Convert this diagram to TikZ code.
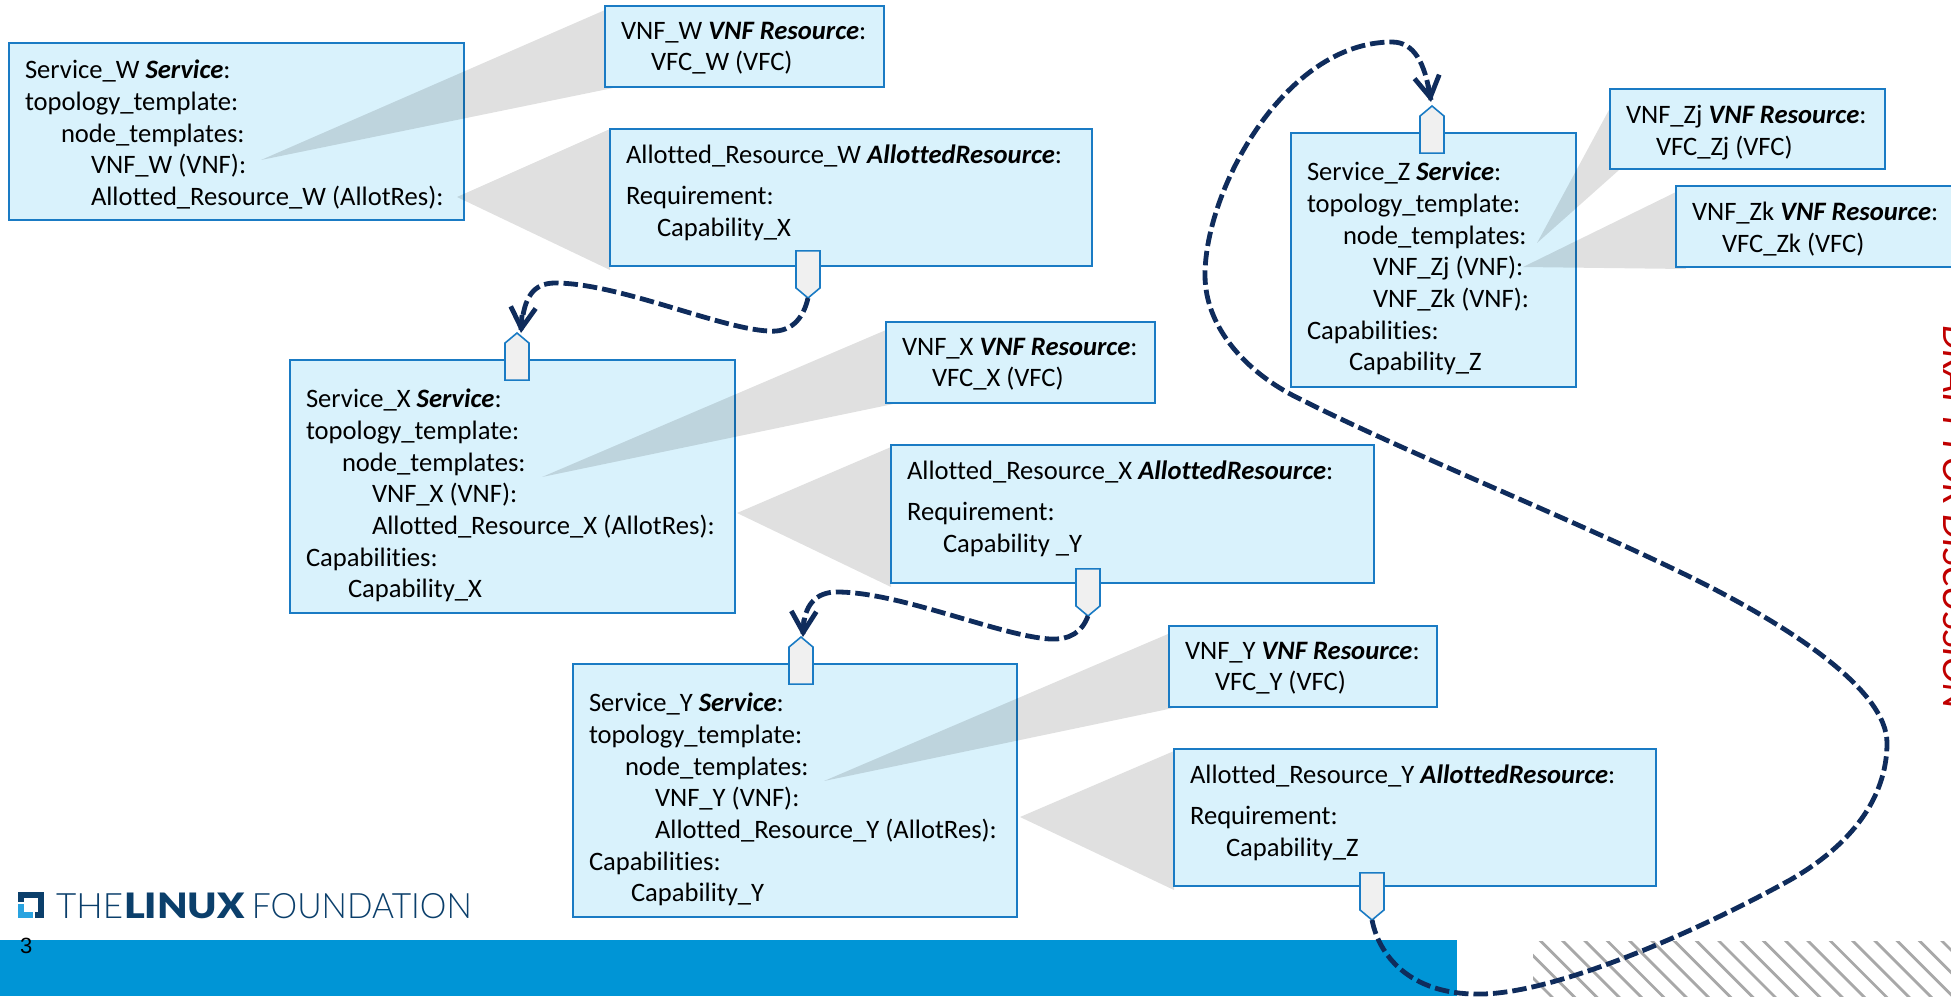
\documentclass[tikz,border=0pt]{standalone}
\usepackage{fontspec}
\usepackage{graphicx}
\setmainfont[Ligatures=NoCommon]{Carlito}
\newfontfamily\logothin{Lato Light}
\newfontfamily\logoheavy{Lato Black}
\newfontfamily\pagefont{Liberation Sans}
\usetikzlibrary{arrows.meta,calc,shapes.symbols}
\definecolor{panelfill}{HTML}{D9F2FC}
\definecolor{paneledge}{HTML}{1A7BC4}
\definecolor{tagfill}{HTML}{F0F0F0}
\definecolor{navy}{HTML}{0F2C5C}
\definecolor{band}{HTML}{0095D6}
\definecolor{logoblue}{HTML}{0B3F6B}
\definecolor{logolight}{HTML}{29A3E0}
\definecolor{draftred}{HTML}{C00000}
\newcommand{\ind}[1]{\hspace*{#1pt}}
\newcommand{\panelbox}[6]{%
  \node[panel, minimum width=\dimexpr #4pt-#2pt\relax, minimum height=\dimexpr #5pt-#3pt\relax] (#1) at (#2,#3) {};
  \node[paneltext] (#1-text) at ($(#1.north west)+(16,#6)$)}
\tikzset{
  panel/.style={draw=paneledge, fill=panelfill, line width=1.8pt, anchor=north west, inner sep=0pt, outer sep=0pt},
  paneltext/.style={anchor=north west, inner sep=0pt, outer sep=0pt, align=left, font=\fontsize{26.6}{31.7}\selectfont, text=black},
  wedge/.style={fill=black, fill opacity=0.12, draw=none},
  tagdown/.style={shape=signal, signal to=south, signal pointer angle=100, draw=paneledge, fill=tagfill, line width=1.6pt, minimum width=24pt, minimum height=37pt, inner sep=0pt, outer sep=0pt, anchor=south},
  tagup/.style={shape=signal, signal to=north, signal pointer angle=100, draw=paneledge, fill=tagfill, line width=1.6pt, minimum width=24pt, minimum height=37pt, inner sep=0pt, outer sep=0pt, anchor=north},
  link/.style={draw=navy, line width=4.8pt, dash pattern=on 14.5pt off 5pt, -{Straight Barb[length=21pt,width=25pt,line width=4.8pt]}},
  shaft/.style={draw=navy, line width=4.8pt},
}
\begin{document}
\begin{tikzpicture}[x=1pt,y=-1pt]
\useasboundingbox (0,0) rectangle (1951,996);
\clip (0,0) rectangle (1951,996);
% footer
\fill[band] (0,940) rectangle (1457,996);
\begin{scope}
\clip (1533,941) rectangle (1951,996);
\foreach \k in {0,...,24} {\draw[line width=2.8pt, draw=black!34] ({1490+22.3*\k},935) -- ({1490+22.3*\k+67},1002);}
\end{scope}
% logo
\fill[logoblue] (18,892) rectangle (44,918);
\fill[white] (24,898) rectangle (38,912);
\fill[white] (18,902) rectangle (24,918);
\fill[white] (18,912) rectangle (35,918);
\fill[logolight] (18,904) rectangle (24,918);
\fill[logolight] (18,912) rectangle (33,918);
\node[anchor=base west, inner sep=0pt, text=logoblue, font=\fontsize{35}{35}\logothin] (logo) at (56,918) {THE\hspace*{1pt}\scalebox{1.13}[1]{\logoheavy LINUX}\hspace*{7pt}\scalebox{.96}[1]{FOUNDATION}};
\node[anchor=base west, inner sep=0pt, font=\fontsize{22}{22}\pagefont] (pagenum) at (20,953) {3};
\node[anchor=base west, rotate=-90, inner sep=0pt, text=draftred, font=\fontsize{39.5}{39.5}\itshape] (draft) at (1943,325) {DRAFT FOR DISCUSSION};

% service W
\panelbox{svcW}{9}{43}{464}{220}{17} {Service\_W \textbf{\textit{Service}}:\\topology\_template:\\\ind{36}node\_templates:\\\ind{66}VNF\_W (VNF):\\\ind{66}Allotted\_Resource\_W (AllotRes):};
\fill[wedge] (261,160) -- (605,10) -- (613,88) -- cycle;
\fill[wedge] (457,197) -- (610,129) -- (610,270) -- cycle;
\panelbox{vnfW}{605}{6}{884}{87}{16} {VNF\_W \textbf{\textit{VNF Resource}}:\\\ind{30}VFC\_W (VFC)};
\panelbox{allW}{610}{129}{1092}{266}{16} {Allotted\_Resource\_W \textbf{\textit{AllottedResource}}:\\[9pt]Requirement:\\\ind{31}Capability\_X};

% service X
\panelbox{svcX}{290}{360}{735}{613}{29} {Service\_X \textbf{\textit{Service}}:\\topology\_template:\\\ind{36}node\_templates:\\\ind{66}VNF\_X (VNF):\\\ind{66}Allotted\_Resource\_X (AllotRes):\\Capabilities:\\\ind{42}Capability\_X};
\fill[wedge] (542,477) -- (886,330) -- (898,403) -- cycle;
\fill[wedge] (737,513) -- (891,447) -- (891,587) -- cycle;
\panelbox{vnfX}{886}{322}{1155}{403}{16} {VNF\_X \textbf{\textit{VNF Resource}}:\\\ind{30}VFC\_X (VFC)};
\panelbox{allX}{891}{445}{1374}{583}{16} {Allotted\_Resource\_X \textbf{\textit{AllottedResource}}:\\[9pt]Requirement:\\\ind{36}Capability \_Y};

% service Y
\panelbox{svcY}{573}{664}{1017}{917}{29} {Service\_Y \textbf{\textit{Service}}:\\topology\_template:\\\ind{36}node\_templates:\\\ind{66}VNF\_Y (VNF):\\\ind{66}Allotted\_Resource\_Y (AllotRes):\\Capabilities:\\\ind{42}Capability\_Y};
\fill[wedge] (824,781) -- (1168,634) -- (1178,707) -- cycle;
\fill[wedge] (1020,817) -- (1174,751) -- (1174,890) -- cycle;
\panelbox{vnfY}{1169}{626}{1437}{707}{16} {VNF\_Y \textbf{\textit{VNF Resource}}:\\\ind{30}VFC\_Y (VFC)};
\panelbox{allY}{1174}{749}{1656}{886}{16} {Allotted\_Resource\_Y \textbf{\textit{AllottedResource}}:\\[9pt]Requirement:\\\ind{36}Capability\_Z};

% service Z
\panelbox{svcZ}{1291}{133}{1576}{387}{29} {Service\_Z \textbf{\textit{Service}}:\\topology\_template:\\\ind{36}node\_templates:\\\ind{66}VNF\_Zj (VNF):\\\ind{66}VNF\_Zk (VNF):\\Capabilities:\\\ind{42}Capability\_Z};
\fill[wedge] (1537,243) -- (1610,108) -- (1619,170) -- cycle;
\fill[wedge] (1523,267) -- (1676,192) -- (1686,269) -- cycle;
\panelbox{vnfZj}{1610}{89}{1885}{169}{16} {VNF\_Zj \textbf{\textit{VNF Resource}}:\\\ind{30}VFC\_Zj (VFC)};
\panelbox{vnfZk}{1676}{186}{1960}{267}{16} {VNF\_Zk \textbf{\textit{VNF Resource}}:\\\ind{30}VFC\_Zk (VFC)};

% tags
\node[tagdown] (reqW) at (808,298) {};
\node[tagup] (capX) at (517,333) {};
\node[tagdown] (reqX) at (1088,616) {};
\node[tagup] (capY) at (801,637) {};
\node[tagdown] (reqY) at (1372,920) {};
\node[tagup] (capZ) at (1432,106) {};

% connectors
\draw[link] (reqW.south) .. controls (803,320) and (790,333) .. (768,331) .. controls (718,328) and (618,283) .. (555,283) .. controls (533,283) and (524,298) .. ($(capX.north)+(4,0)$);
\draw[shaft] ($(capX.north)+(5,-18)$) -- ($(capX.north)+(4,-3)$);
\draw[link] (reqX.south) .. controls (1082,632) and (1070,640) .. (1050,639) .. controls (1000,636) and (900,592) .. (837,592) .. controls (815,592) and (804,606) .. ($(capY.north)+(2,0)$);
\draw[shaft] ($(capY.north)+(3,-18)$) -- ($(capY.north)+(2,-3)$);
\draw[link] (reqY.south) .. controls (1380,960) and (1415,996) .. (1483,994) .. controls (1560,992) and (1700,930) .. (1790,880) .. controls (1860,840) and (1887,790) .. (1887,743) .. controls (1887,690) and (1790,625) .. (1680,572) .. controls (1560,514) and (1400,450) .. (1296,397) .. controls (1250,374) and (1205,330) .. (1205,275) .. controls (1205,190) and (1285,42) .. (1392,42) .. controls (1415,42) and (1425,65) .. ($(capZ.north)+(-1,-4)$);
\draw[shaft] ($(capZ.north)+(-4,-21)$) -- ($(capZ.north)+(-1,-6)$);
\end{tikzpicture}
\end{document}
